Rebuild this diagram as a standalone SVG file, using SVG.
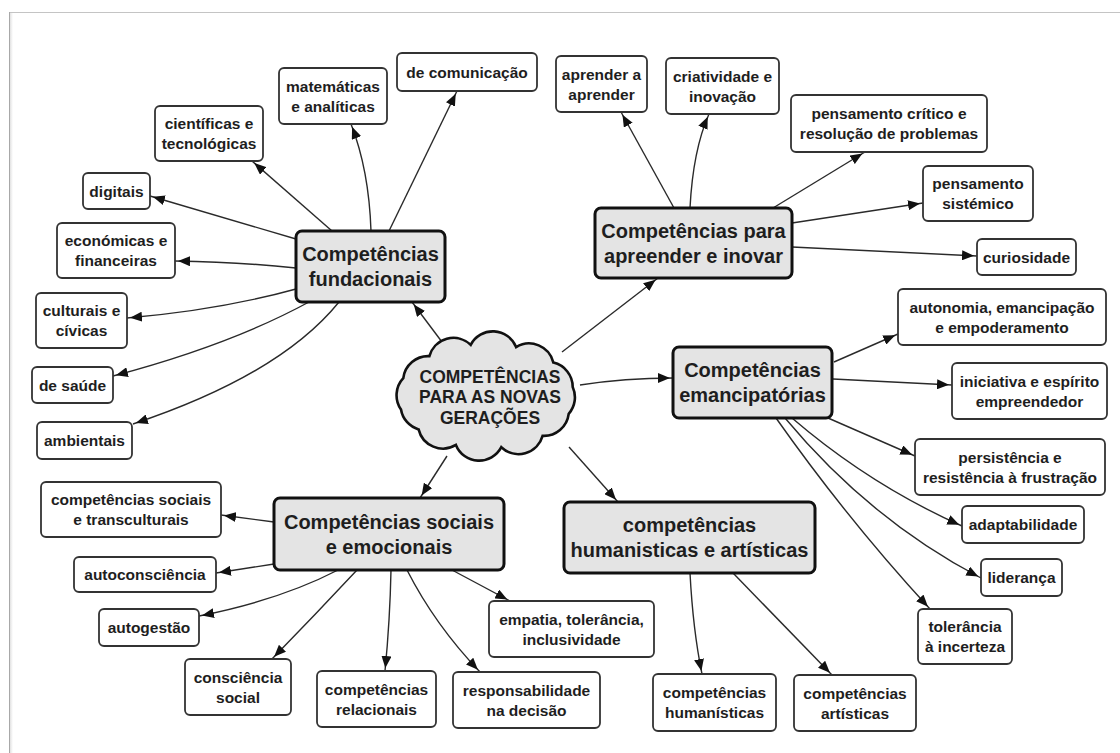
<svg xmlns="http://www.w3.org/2000/svg" width="1120" height="753" viewBox="0 0 1120 753">
<defs>
<marker id="arr" viewBox="0 0 12 10" refX="15" refY="5" markerWidth="12" markerHeight="10" markerUnits="userSpaceOnUse" orient="auto">
<path d="M0,0 L12,5 L0,10 z" fill="#111"/>
</marker>
<linearGradient id="shade" x1="0" y1="0" x2="1" y2="0">
<stop offset="0" stop-color="#d8d8d8"/>
<stop offset="1" stop-color="#ffffff"/>
</linearGradient>
</defs>
<style>
.leaf rect{fill:#fff;stroke:#333;stroke-width:1.8}
.main rect{fill:#e4e4e4;stroke:#111;stroke-width:3}
text{font-family:"Liberation Sans",Arial,sans-serif;font-weight:bold;fill:#1e1e1e;text-anchor:middle}
.leaf text{font-size:15.5px}
.main text{font-size:20px}
.cloud text{font-size:17.5px}
#connectors path{fill:none;stroke:#2a2a2a;stroke-width:1.4;marker-end:url(#arr)}
</style>
<rect x="0" y="0" width="1120" height="753" fill="#fff"/>
<rect x="9" y="12" width="4" height="741" fill="url(#shade)"/>
<line x1="9" y1="12.5" x2="1120" y2="12.5" stroke="#c4c4c4" stroke-width="1"/>
<line x1="9.5" y1="12" x2="9.5" y2="753" stroke="#a8a8a8" stroke-width="1"/>

<g id="connectors">
<path d="M389,231 L457,91"/>
<path d="M371,231 Q369,170 351,124"/>
<path d="M332,231 L252,161"/>
<path d="M296,239 L150,196"/>
<path d="M296,268 Q240,262 175,261"/>
<path d="M296,289 Q220,310 127,318"/>
<path d="M309,302 Q230,345 113,376"/>
<path d="M339,302 Q280,375 133,424"/>
<path d="M448,350 L412,302"/>
<path d="M674,208 L621,112"/>
<path d="M690,208 Q693,150 709,114"/>
<path d="M773,208 L865,152"/>
<path d="M792,223 L923,203"/>
<path d="M792,247 L977,256"/>
<path d="M562,352 L658,278"/>
<path d="M580,385 Q625,378 673,378"/>
<path d="M834,362 L898,334"/>
<path d="M833,379 L952,385"/>
<path d="M828,418 L915,456"/>
<path d="M792,418 Q870,485 962,526"/>
<path d="M785,418 Q870,520 981,578"/>
<path d="M776,418 Q848,520 930,609"/>
<path d="M569,447 L618,502"/>
<path d="M690,573 Q693,630 702,674"/>
<path d="M733,573 L832,675"/>
<path d="M447,456 L420,498"/>
<path d="M274,522 L221,515"/>
<path d="M274,564 L216,573"/>
<path d="M338,570 Q280,600 199,616"/>
<path d="M357,570 Q315,615 272,659"/>
<path d="M391,570 Q390,620 385,671"/>
<path d="M407,570 Q435,625 480,672"/>
<path d="M452,570 L510,601"/>
</g>

<g id="cloud" class="cloud">
<path d="M401,409.5 A25,25 0 0 1 403.3,378.2 A25,25 0 0 1 429.4,356.2 A25,25 0 0 1 470.7,344.8 A25,25 0 0 1 516.1,347.1 A25,25 0 0 1 553.4,362.6 A25,25 0 0 1 572.7,387 A25,25 0 0 1 568.7,413.8 A25,25 0 0 1 542.6,435.8 A25,25 0 0 1 501.3,447.2 A25,25 0 0 1 455.9,444.9 A25,25 0 0 1 418.6,429.4 A25,25 0 0 1 401,409.5 Z" fill="#e4e4e4" stroke="#111" stroke-width="2.6"/>
<text x="490" y="383.3">COMPETÊNCIAS</text>
<text x="490" y="403.3">PARA AS NOVAS</text>
<text x="490" y="424.3">GERAÇÕES</text>
</g>

<g id="fundacionais" class="main"><rect x="296" y="231" width="149" height="71" rx="6"/><text x="370.5" y="261.2">Competências</text><text x="370.5" y="286.2">fundacionais</text></g>
<g id="apreender" class="main"><rect x="595" y="208" width="197" height="70" rx="6"/><text x="693.5" y="237.7">Competências para</text><text x="693.5" y="262.7">apreender e inovar</text></g>
<g id="emancipatorias" class="main"><rect x="673" y="347" width="159" height="71" rx="6"/><text x="752.5" y="377.2">Competências</text><text x="752.5" y="402.2">emancipatórias</text></g>
<g id="humanisticas" class="main"><rect x="564" y="502" width="251" height="71" rx="6"/><text x="689.5" y="532.2">competências</text><text x="689.5" y="557.2">humanisticas e artísticas</text></g>
<g id="sociais" class="main"><rect x="274" y="498" width="230" height="72" rx="6"/><text x="389" y="528.7">Competências sociais</text><text x="389" y="553.7">e emocionais</text></g>

<g id="comunicacao" class="leaf"><rect x="397" y="53" width="140" height="38" rx="5"/><text x="467" y="77.6">de comunicação</text></g>
<g id="matematicas" class="leaf"><rect x="279" y="68" width="108" height="56" rx="5"/><text x="333" y="91.6">matemáticas</text><text x="333" y="111.6">e analíticas</text></g>
<g id="cientificas" class="leaf"><rect x="155" y="106" width="108" height="55" rx="5"/><text x="209" y="129.1">científicas e</text><text x="209" y="149.1">tecnológicas</text></g>
<g id="digitais" class="leaf"><rect x="83" y="173" width="67" height="36" rx="5"/><text x="116.5" y="196.6">digitais</text></g>
<g id="economicas" class="leaf"><rect x="57" y="223" width="118" height="55" rx="5"/><text x="116" y="246.1">económicas e</text><text x="116" y="266.1">financeiras</text></g>
<g id="culturais" class="leaf"><rect x="36" y="293" width="91" height="55" rx="5"/><text x="81.5" y="316.1">culturais e</text><text x="81.5" y="336.1">cívicas</text></g>
<g id="saude" class="leaf"><rect x="32" y="367" width="81" height="36" rx="5"/><text x="72.5" y="390.6">de saúde</text></g>
<g id="ambientais" class="leaf"><rect x="37" y="422" width="95" height="37" rx="5"/><text x="84.5" y="446.1">ambientais</text></g>

<g id="aprender" class="leaf"><rect x="556" y="56" width="91" height="56" rx="5"/><text x="601.5" y="79.6">aprender a</text><text x="601.5" y="99.6">aprender</text></g>
<g id="criatividade" class="leaf"><rect x="666" y="58" width="113" height="56" rx="5"/><text x="722.5" y="81.6">criatividade e</text><text x="722.5" y="101.6">inovação</text></g>
<g id="pensamento-critico" class="leaf"><rect x="791" y="95" width="196" height="57" rx="5"/><text x="889" y="119.1">pensamento crítico e</text><text x="889" y="139.1">resolução de problemas</text></g>
<g id="pensamento-sistemico" class="leaf"><rect x="923" y="166" width="110" height="55" rx="5"/><text x="978" y="189.1">pensamento</text><text x="978" y="209.1">sistémico</text></g>
<g id="curiosidade" class="leaf"><rect x="977" y="239" width="99" height="36" rx="5"/><text x="1026.5" y="262.6">curiosidade</text></g>

<g id="autonomia" class="leaf"><rect x="898" y="289" width="208" height="56" rx="5"/><text x="1002" y="312.6">autonomia, emancipação</text><text x="1002" y="332.6">e empoderamento</text></g>
<g id="iniciativa" class="leaf"><rect x="952" y="363" width="155" height="56" rx="5"/><text x="1029.5" y="386.6">iniciativa e espírito</text><text x="1029.5" y="406.6">empreendedor</text></g>
<g id="persistencia" class="leaf"><rect x="915" y="439" width="190" height="56" rx="5"/><text x="1010" y="462.6">persistência e</text><text x="1010" y="482.6">resistência à frustração</text></g>
<g id="adaptabilidade" class="leaf"><rect x="962" y="506" width="122" height="37" rx="5"/><text x="1023" y="530.1">adaptabilidade</text></g>
<g id="lideranca" class="leaf"><rect x="981" y="559" width="81" height="37" rx="5"/><text x="1021.5" y="583.1">liderança</text></g>
<g id="tolerancia" class="leaf"><rect x="918" y="609" width="94" height="55" rx="5"/><text x="965" y="632.1">tolerância</text><text x="965" y="652.1">à incerteza</text></g>

<g id="comp-humanisticas" class="leaf"><rect x="653" y="674" width="123" height="57" rx="5"/><text x="714.5" y="698.1">competências</text><text x="714.5" y="718.1">humanísticas</text></g>
<g id="comp-artisticas" class="leaf"><rect x="794" y="675" width="122" height="56" rx="5"/><text x="855" y="698.6">competências</text><text x="855" y="718.6">artísticas</text></g>

<g id="transculturais" class="leaf"><rect x="41" y="482" width="180" height="55" rx="5"/><text x="131" y="505.1">competências sociais</text><text x="131" y="525.1">e transculturais</text></g>
<g id="autoconsciencia" class="leaf"><rect x="74" y="557" width="142" height="35" rx="5"/><text x="145" y="580.1">autoconsciência</text></g>
<g id="autogestao" class="leaf"><rect x="99" y="609" width="100" height="37" rx="5"/><text x="149" y="633.1">autogestão</text></g>
<g id="consciencia-social" class="leaf"><rect x="185" y="659" width="106" height="56" rx="5"/><text x="238" y="682.6">consciência</text><text x="238" y="702.6">social</text></g>
<g id="relacionais" class="leaf"><rect x="317" y="671" width="119" height="56" rx="5"/><text x="376.5" y="694.6">competências</text><text x="376.5" y="714.6">relacionais</text></g>
<g id="responsabilidade" class="leaf"><rect x="453" y="672" width="147" height="56" rx="5"/><text x="526.5" y="695.6">responsabilidade</text><text x="526.5" y="715.6">na decisão</text></g>
<g id="empatia" class="leaf"><rect x="489" y="601" width="165" height="56" rx="5"/><text x="571.5" y="624.6">empatia, tolerância,</text><text x="571.5" y="644.6">inclusividade</text></g>
</svg>
